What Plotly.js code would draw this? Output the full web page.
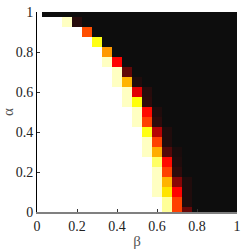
<!DOCTYPE html>
<html>
<head>
<meta charset="utf-8">
<script src="https://cdn.plot.ly/plotly-3.0.1.min.js"></script>
<style>html,body{margin:0;padding:0;background:#fff;}#chart{width:247px;height:249px;}</style>
</head>
<body>
<div id="chart"></div>
<script>
// beta (x) and alpha (y) grid values
const betaVals = [0,0.05,0.1,0.15,0.2,0.25,0.3,0.35,0.4,0.45,0.5,0.55,0.6,0.65,0.7,0.75,0.8,0.85,0.9,0.95,1];
const alphaVals = [0,0.05,0.1,0.15,0.2,0.25,0.3,0.35,0.4,0.45,0.5,0.55,0.6,0.65,0.7,0.75,0.8,0.85,0.9,0.95,1];
const xTickVals = [0,0.2,0.4,0.6,0.8,1];
const xTickText = ['0','0.2','0.4','0.6','0.8','1'];
const yTickVals = [0,0.2,0.4,0.6,0.8,1];
const yTickText = ['0','0.2','0.4','0.6','0.8','1'];

// one row per alpha value (alpha = 0 first), 21 values per row along beta
const row_a000 = [1,1,1,1,1,1,1,1,1,1,1,1,1,0.9,0.47,0.14,0,0,0,0,0];
const row_a005 = [1,1,1,1,1,1,1,1,1,1,1,1,1,0.9,0.47,0.03,0,0,0,0,0];
const row_a010 = [1,1,1,1,1,1,1,1,1,1,1,1,0.94,0.71,0.38,0.03,0,0,0,0,0];
const row_a015 = [1,1,1,1,1,1,1,1,1,1,1,1,0.94,0.64,0.19,0.03,0,0,0,0,0];
const row_a020 = [1,1,1,1,1,1,1,1,1,1,1,1,0.94,0.47,0.05,0,0,0,0,0,0];
const row_a025 = [1,1,1,1,1,1,1,1,1,1,1,1,0.85,0.39,0.03,0,0,0,0,0,0];
const row_a030 = [1,1,1,1,1,1,1,1,1,1,1,0.94,0.63,0.11,0.02,0,0,0,0,0,0];
const row_a035 = [1,1,1,1,1,1,1,1,1,1,1,0.94,0.47,0.03,0,0,0,0,0,0,0];
const row_a040 = [1,1,1,1,1,1,1,1,1,1,1,0.77,0.26,0.03,0,0,0,0,0,0,0];
const row_a045 = [1,1,1,1,1,1,1,1,1,1,0.94,0.47,0.05,0,0,0,0,0,0,0,0];
const row_a050 = [1,1,1,1,1,1,1,1,1,1,0.94,0.39,0.03,0,0,0,0,0,0,0,0];
const row_a055 = [1,1,1,1,1,1,1,1,1,0.94,0.76,0.05,0,0,0,0,0,0,0,0,0];
const row_a060 = [1,1,1,1,1,1,1,1,1,0.94,0.33,0.04,0,0,0,0,0,0,0,0,0];
const row_a065 = [1,1,1,1,1,1,1,1,0.94,0.64,0.03,0,0,0,0,0,0,0,0,0,0];
const row_a070 = [1,1,1,1,1,1,1,1,0.94,0.13,0,0,0,0,0,0,0,0,0,0,0];
const row_a075 = [1,1,1,1,1,1,1,0.94,0.38,0,0,0,0,0,0,0,0,0,0,0,0];
const row_a080 = [1,1,1,1,1,1,1,0.6,0,0,0,0,0,0,0,0,0,0,0,0,0];
const row_a085 = [1,1,1,1,1,1,0.77,0,0,0,0,0,0,0,0,0,0,0,0,0,0];
const row_a090 = [1,1,1,1,1,0.49,0,0,0,0,0,0,0,0,0,0,0,0,0,0,0];
const row_a095 = [1,1,1,0.94,0.04,0,0,0,0,0,0,0,0,0,0,0,0,0,0,0,0];
const row_a100 = [1,0,0,0,0,0,0,0,0,0,0,0,0,0,0,0,0,0,0,0,0];

const zRows = [row_a000,row_a005,row_a010,row_a015,row_a020,row_a025,row_a030,row_a035,row_a040,row_a045,
  row_a050,row_a055,row_a060,row_a065,row_a070,row_a075,row_a080,row_a085,row_a090,row_a095,row_a100];

const hotScale = [[0,'#0d0d0d'],[0.375,'#ff0000'],[0.75,'#ffff00'],[1,'#ffffff']];
const fontFam = 'Liberation Serif';

const trace = {
  type: 'heatmap',
  x: betaVals,
  y: alphaVals,
  z: zRows,
  zmin: 0, zmax: 1,
  colorscale: hotScale,
  showscale: false,
  zsmooth: false,
  hoverinfo: 'skip'
};

const layout = {
  width: 247, height: 249,
  margin: {l: 37, r: 10, t: 12, b: 37, pad: 0},
  paper_bgcolor: '#ffffff',
  plot_bgcolor: '#ffffff',
  showlegend: false,
  font: {family: fontFam, size: 14, color: '#222'},
  xaxis: {
    range: [0, 1],
    tickmode: 'array', tickvals: xTickVals, ticktext: xTickText,
    ticks: 'inside', ticklen: 3, tickwidth: 1, tickcolor: '#333',
    showline: true, linecolor: '#808080', linewidth: 2,
    showgrid: false, zeroline: false, mirror: false,
    tickfont: {family: fontFam, size: 14, color: '#222'},
    title: {text: 'β', font: {family: fontFam, size: 15, color: '#555'}, standoff: 3},
    fixedrange: true
  },
  yaxis: {
    range: [0, 1],
    tickmode: 'array', tickvals: yTickVals, ticktext: yTickText,
    ticks: 'inside', ticklen: 3, tickwidth: 1, tickcolor: '#333',
    showline: true, linecolor: '#000000', linewidth: 1,
    showgrid: false, zeroline: false, mirror: false,
    tickfont: {family: fontFam, size: 14, color: '#222'},
    title: {text: 'α', font: {family: fontFam, size: 15, color: '#555'}, standoff: 3},
    fixedrange: true
  }
};

Plotly.newPlot('chart', [trace], layout, {displayModeBar: false, staticPlot: true});
</script>
</body>
</html>
